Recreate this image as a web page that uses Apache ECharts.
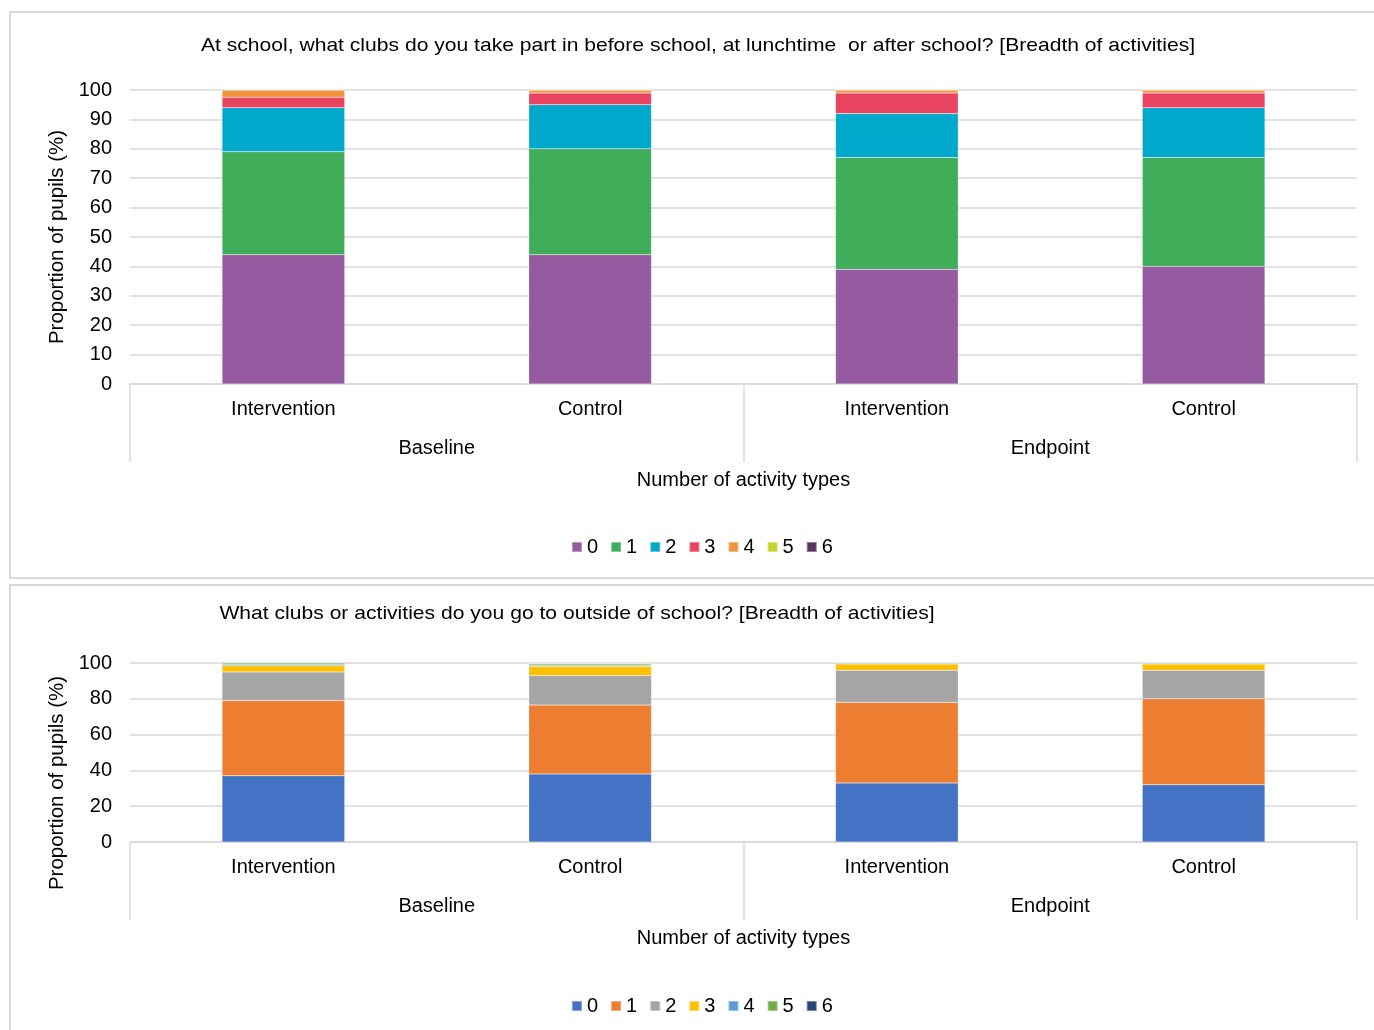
<!DOCTYPE html>
<html>
<head>
<meta charset="utf-8">
<script src="https://cdn.jsdelivr.net/npm/echarts@6/dist/echarts.min.js"></script>
<style>
html,body{margin:0;padding:0;background:#fff;}
#c1{position:absolute;left:0;top:0;width:1374px;height:580px;}
#c2{position:absolute;left:0;top:580px;width:1374px;height:450px;}
</style>
</head>
<body>
<div id="c1"></div>
<div id="c2"></div>
<script>
// ---- data ----
const groupLabels = ['Intervention', 'Control', 'Intervention', 'Control'];
const phaseLabels = ['Baseline', 'Endpoint'];
const seriesNames = ['0', '1', '2', '3', '4', '5', '6'];

// Chart 1: clubs at school (% of pupils by number of activity types)
const school0 = [44, 44, 39, 40];
const school1 = [35, 36, 38, 37];
const school2 = [15, 15, 15, 17];
const school3 = [3.5, 4, 7, 5];
const school4 = [2.5, 1, 1, 1];
const school5 = [0, 0, 0, 0];
const school6 = [0, 0, 0, 0];

// Chart 2: activities outside of school
const outside0 = [37, 38, 33, 32];
const outside1 = [42, 38.5, 45, 48];
const outside2 = [16, 16.5, 18, 16];
const outside3 = [3.5, 5, 3.5, 3.5];
const outside4 = [0.5, 0.5, 0.5, 0.5];
const outside5 = [1, 1, 0, 0];
const outside6 = [0, 0, 0, 0];

const title1 = 'At school, what clubs do you take part in before school, at lunchtime  or after school? [Breadth of activities]';
const title2 = 'What clubs or activities do you go to outside of school? [Breadth of activities]';
const yTitle = 'Proportion of pupils (%)';
const xTitle = 'Number of activity types';

const colors1 = ['#955AA0', '#3FAD5A', '#00A9CB', '#E8435F', '#F0943F', '#C5D32B', '#5B3462'];
const colors2 = ['#4472C4', '#ED7D31', '#A5A5A5', '#FFC000', '#5B9BD5', '#70AD47', '#264478'];

const FONT = '"Liberation Sans", Arial, sans-serif';
const TXT = '#000';
const GRID = '#d9d9d9';
const FS = 20;

function build(opts) {
  const vals = opts.values;
  return {
    animation: false,
    textStyle: { fontFamily: FONT },
    color: opts.colors,
    graphic: [
      { type: 'rect', shape: { x: 10, y: opts.boxY, width: 1380, height: opts.boxH },
        style: { fill: 'none', stroke: GRID, lineWidth: 2 }, z: -1 },
      { type: 'text', x: opts.titleX, y: opts.titleY, scaleX: 1.11,
        style: { text: opts.title, fill: TXT, font: '19px ' + FONT, textAlign: 'center', textVerticalAlign: 'middle' } },
      { type: 'text', x: 57, y: opts.yTitleY, rotation: Math.PI / 2,
        style: { text: yTitle, fill: TXT, font: '20.5px ' + FONT, textAlign: 'center', textVerticalAlign: 'middle' } }
    ],
    legend: {
      data: seriesNames,
      left: 566,
      top: opts.legendTop,
      itemWidth: 10, itemHeight: 10, itemGap: 12,
      icon: 'rect',
      textStyle: { fontSize: FS, color: TXT, fontFamily: FONT }
    },
    grid: { left: 130, right: 17, top: opts.gridTop, height: opts.gridH },
    xAxis: [
      {
        type: 'category', data: groupLabels, gridIndex: 0, position: 'bottom',
        axisLine: { show: true, lineStyle: { color: GRID, width: 1.5 } },
        axisTick: { show: false },
        axisLabel: { color: TXT, fontSize: FS, margin: 15, fontFamily: FONT },
        name: xTitle, nameLocation: 'middle', nameGap: 86,
        nameTextStyle: { color: TXT, fontSize: FS, fontFamily: FONT }
      },
      {
        type: 'category', data: phaseLabels, gridIndex: 0, position: 'bottom',
        axisLine: { show: false },
        axisTick: { show: true, length: 78, lineStyle: { color: GRID, width: 1.5 } },
        axisLabel: { color: TXT, fontSize: FS, margin: 54, fontFamily: FONT },
        splitLine: { show: false }
      }
    ],
    yAxis: {
      type: 'value', min: 0, max: 100, interval: opts.interval,
      axisLine: { show: false }, axisTick: { show: false },
      axisLabel: { color: TXT, fontSize: FS, margin: 18, fontFamily: FONT },
      splitLine: { lineStyle: { color: GRID, width: 1.5 } }
    },
    series: seriesNames.map((n, i) => ({
      name: n, type: 'bar', stack: 'total', xAxisIndex: 0,
      barWidth: '40%', data: vals[i],
      itemStyle: { borderColor: 'rgba(255,255,255,0.35)', borderWidth: 0.5 }
    }))
  };
}

const chart1 = echarts.init(document.getElementById('c1'), null, { renderer: 'canvas' });
chart1.setOption(build({
  values: [school0, school1, school2, school3, school4, school5, school6],
  colors: colors1, title: title1, titleX: 698, titleY: 46,
  boxY: 12, boxH: 566, yTitleY: 237, legendTop: 532,
  gridTop: 90, gridH: 294, interval: 10
}));

const chart2 = echarts.init(document.getElementById('c2'), null, { renderer: 'canvas' });
chart2.setOption(build({
  values: [outside0, outside1, outside2, outside3, outside4, outside5, outside6],
  colors: colors2, title: title2, titleX: 577, titleY: 34,
  boxY: 5, boxH: 500, yTitleY: 203, legendTop: 411,
  gridTop: 83, gridH: 179, interval: 20
}));
</script>
</body>
</html>
